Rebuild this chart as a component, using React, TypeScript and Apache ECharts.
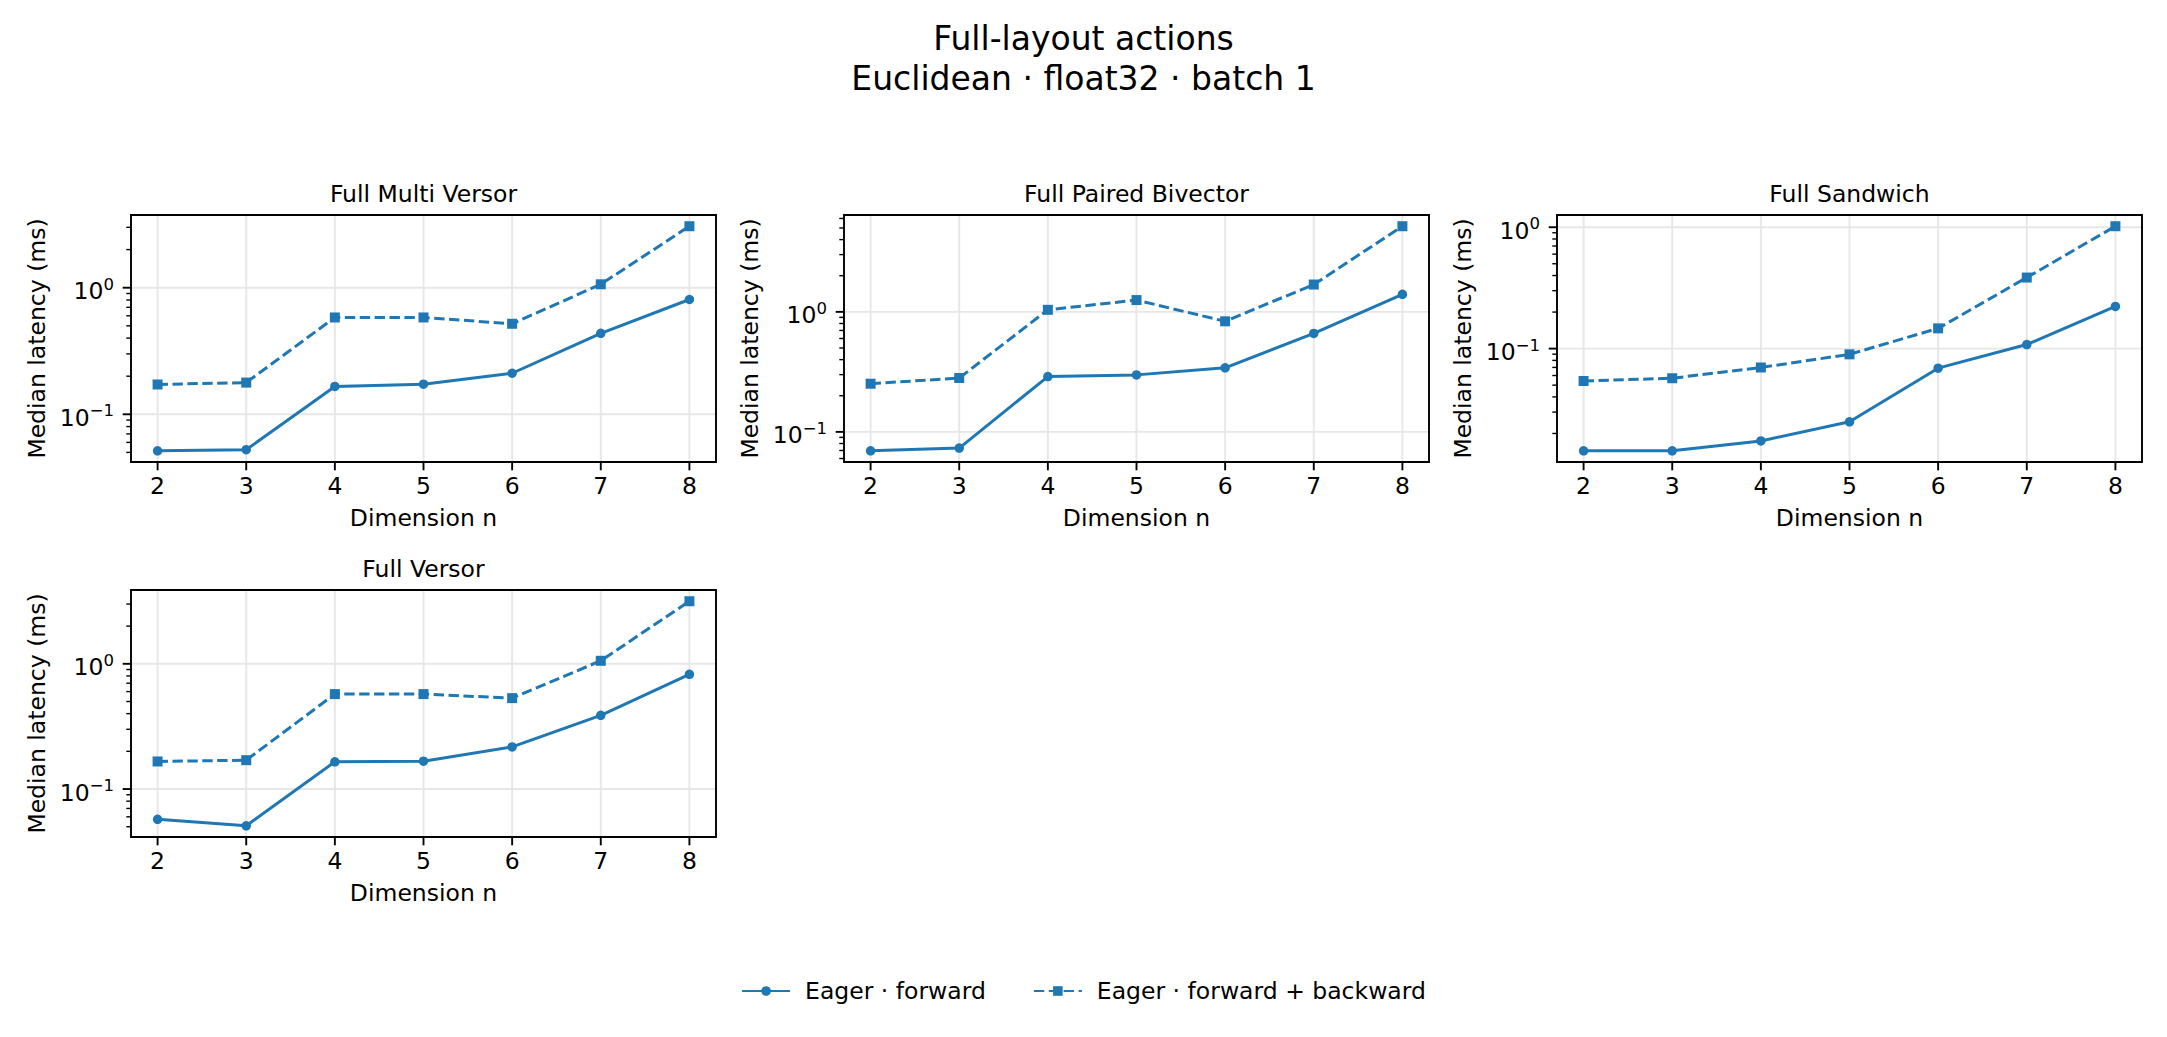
import React, { useEffect, useRef } from 'react';
import * as echarts from 'echarts';

// values, latency in ms
const DIMENSIONS = [2, 3, 4, 5, 6, 7, 8];
const SERIES_NAMES = ['Eager · forward', 'Eager · forward + backward'];

const multiVersorForward = [0.0515, 0.0525, 0.166, 0.173, 0.211, 0.436, 0.807];
const multiVersorBackward = [0.172, 0.178, 0.582, 0.582, 0.519, 1.064, 3.06];
const pairedBivectorForward = [0.0696, 0.0733, 0.289, 0.2985, 0.342, 0.661, 1.4];
const pairedBivectorBackward = [0.252, 0.281, 1.04, 1.254, 0.834, 1.689, 5.17];
const sandwichForward = [0.0144, 0.0144, 0.01734, 0.02495, 0.069, 0.108, 0.2224];
const sandwichBackward = [0.0541, 0.057, 0.0699, 0.0897, 0.1468, 0.385, 1.019];
const versorForward = [0.0573, 0.0509, 0.165, 0.167, 0.217, 0.388, 0.825];
const versorBackward = [0.166, 0.17, 0.573, 0.573, 0.532, 1.057, 3.16];

const MINOR_MULTIPLES = [2, 3, 4, 5, 6, 7, 8, 9];

const PANELS = [
  { title: 'Full Multi Versor', forward: multiVersorForward, backward: multiVersorBackward },
  { title: 'Full Paired Bivector', forward: pairedBivectorForward, backward: pairedBivectorBackward },
  { title: 'Full Sandwich', forward: sandwichForward, backward: sandwichBackward },
  { title: 'Full Versor', forward: versorForward, backward: versorBackward },
];

const FONT = 'DejaVu Sans';
const BLUE = '#1f77b4';
const TEXT_SIZE = 23.5;
const COL_LEFT = [131, 844, 1557];
const ROW_TOP = [215, 590];
const PLOT_W = 585;
const PLOT_H = 247;

// matplotlib-style 5% margins
const X_PAD = (DIMENSIONS[DIMENSIONS.length - 1] - DIMENSIONS[0]) * 0.05;
const X_MIN = DIMENSIONS[0] - X_PAD;
const X_MAX = DIMENSIONS[DIMENSIONS.length - 1] + X_PAD;

function logRange(values: number[]): [number, number] {
  const logs = values.map((v) => Math.log10(v));
  const lo = Math.min(...logs);
  const hi = Math.max(...logs);
  const pad = (hi - lo) * 0.05;
  return [Math.pow(10, lo - pad), Math.pow(10, hi + pad)];
}

function decades(lo: number, hi: number) {
  const out: number[] = [];
  for (let e = Math.floor(Math.log10(lo)); e <= Math.ceil(Math.log10(hi)); e++) {
    const v = Math.pow(10, e);
    if (v >= lo && v <= hi) out.push(v);
  }
  return out;
}

function minorValues(lo: number, hi: number) {
  const out: number[] = [];
  for (let e = Math.floor(Math.log10(lo)); e <= Math.ceil(Math.log10(hi)); e++) {
    MINOR_MULTIPLES.forEach((m) => {
      const v = m * Math.pow(10, e);
      if (v >= lo && v <= hi) out.push(v);
    });
  }
  return out;
}

const gridLinesItem = (yMin: number, yMax: number) => (_params: any, api: any) => {
  const [left, bottom] = api.coord([X_MIN, yMin]);
  const [right, top] = api.coord([X_MAX, yMax]);
  const style = { stroke: '#e7e7e7', lineWidth: 1.9 };
  const children: any[] = [];
  DIMENSIONS.forEach((d) => {
    const [x] = api.coord([d, yMin]);
    children.push({ type: 'line', shape: { x1: x, y1: top, x2: x, y2: bottom }, style });
  });
  decades(yMin, yMax).forEach((v) => {
    const [, y] = api.coord([X_MIN, v]);
    children.push({ type: 'line', shape: { x1: left, y1: y, x2: right, y2: y }, style });
  });
  return { type: 'group', children };
};

const frameItem = (yMin: number, yMax: number) => (_params: any, api: any) => {
  const [left, bottom] = api.coord([X_MIN, yMin]);
  const [right, top] = api.coord([X_MAX, yMax]);
  const major = { stroke: '#000', lineWidth: 1.9 };
  const minor = { stroke: '#000', lineWidth: 1.4 };
  const children: any[] = [];
  DIMENSIONS.forEach((d) => {
    const [x] = api.coord([d, yMin]);
    children.push({ type: 'line', shape: { x1: x, y1: bottom, x2: x, y2: bottom + 8.3 }, style: major });
  });
  decades(yMin, yMax).forEach((v) => {
    const [, y] = api.coord([X_MIN, v]);
    children.push({ type: 'line', shape: { x1: left - 8.3, y1: y, x2: left, y2: y }, style: major });
  });
  minorValues(yMin, yMax).forEach((v) => {
    const [, y] = api.coord([X_MIN, v]);
    children.push({ type: 'line', shape: { x1: left - 4.7, y1: y, x2: left, y2: y }, style: minor });
  });
  children.push({
    type: 'rect',
    shape: { x: left, y: top, width: right - left, height: bottom - top },
    style: { fill: 'none', stroke: '#000', lineWidth: 1.9 },
  });
  return { type: 'group', children };
};

function powerLabel(v: number) {
  const e = Math.log10(v);
  const r = Math.round(e);
  if (Math.abs(e - r) > 1e-6) return '';
  return `{b|10}{s|${r < 0 ? '\u2212' + -r : r}}`;
}

function buildOption() {
  const grid: any[] = [];
  const xAxis: any[] = [];
  const yAxis: any[] = [];
  const series: any[] = [];
  const title: any[] = [
    {
      text: 'Full-layout actions\nEuclidean · float32 · batch 1',
      left: 'center',
      top: 13,
      textStyle: { fontFamily: FONT, fontSize: 33, fontWeight: 'normal', color: '#000', lineHeight: 40 },
    },
  ];

  PANELS.forEach((p, i) => {
    const left = COL_LEFT[i % 3];
    const top = ROW_TOP[Math.floor(i / 3)];
    const [yMin, yMax] = logRange([...p.forward, ...p.backward]);

    grid.push({ left, top, width: PLOT_W, height: PLOT_H, show: false });
    title.push({
      text: p.title,
      left: left + PLOT_W / 2,
      top: top - 35.5,
      textAlign: 'center',
      padding: 0,
      textStyle: { fontFamily: FONT, fontSize: TEXT_SIZE, fontWeight: 'normal', color: '#000', lineHeight: 28 },
    });

    xAxis.push({
      type: 'value',
      gridIndex: i,
      min: X_MIN,
      max: X_MAX,
      name: 'Dimension n',
      nameLocation: 'middle',
      nameGap: 44,
      nameTextStyle: { fontFamily: FONT, fontSize: TEXT_SIZE, color: '#000' },
      axisLine: { show: false },
      axisTick: { show: false },
      splitLine: { show: false },
      axisLabel: {
        margin: 12,
        fontFamily: FONT,
        fontSize: TEXT_SIZE,
        color: '#000',
        formatter: (v: number) => (Number.isInteger(v) ? String(v) : ''),
      },
    });

    yAxis.push({
      type: 'log',
      logBase: 10,
      gridIndex: i,
      min: yMin,
      max: yMax,
      name: 'Median latency (ms)',
      nameLocation: 'middle',
      nameGap: 82,
      nameTextStyle: { fontFamily: FONT, fontSize: TEXT_SIZE, color: '#000' },
      axisLine: { show: false },
      axisTick: { show: false },
      splitLine: { show: false },
      minorTick: { show: false },
      axisLabel: {
        margin: 17,
        color: '#000',
        formatter: powerLabel,
        rich: {
          b: { fontFamily: FONT, fontSize: TEXT_SIZE, color: '#000', padding: [7, 0, 0, 0] },
          s: { fontFamily: FONT, fontSize: 16.5, color: '#000', padding: [0, 0, 7, 0] },
        },
      },
    });

    series.push({
      type: 'custom',
      name: '_grid',
      xAxisIndex: i,
      yAxisIndex: i,
      silent: true,
      clip: false,
      z: 1,
      data: [[DIMENSIONS[0], yMin]],
      renderItem: gridLinesItem(yMin, yMax),
    });

    [p.forward, p.backward].forEach((vals, k) => {
      series.push({
        type: 'line',
        name: SERIES_NAMES[k],
        xAxisIndex: i,
        yAxisIndex: i,
        z: 3,
        data: DIMENSIONS.map((d, j) => [d, vals[j]]),
        symbol: k === 0 ? 'circle' : 'rect',
        symbolSize: k === 0 ? 9.5 : 10,
        showSymbol: true,
        itemStyle: { color: BLUE },
        lineStyle: { color: BLUE, width: 3, type: k === 0 ? 'solid' : [10.4, 4.5] },
      });
    });

    series.push({
      type: 'custom',
      name: '_frame',
      xAxisIndex: i,
      yAxisIndex: i,
      silent: true,
      clip: false,
      z: 5,
      data: [[DIMENSIONS[0], yMin]],
      renderItem: frameItem(yMin, yMax),
    });
  });

  return {
    animation: false,
    backgroundColor: '#fff',
    title,
    grid,
    xAxis,
    yAxis,
    series,
    legend: {
      data: SERIES_NAMES,
      left: 'center',
      top: 979,
      padding: 0,
      itemWidth: 48,
      itemHeight: 12,
      itemGap: 47,
      textStyle: { fontFamily: FONT, fontSize: TEXT_SIZE, color: '#000', padding: [0, 0, 0, 10] },
    },
  };
}

export default function App() {
  const chartRef = useRef<HTMLDivElement>(null);

  useEffect(() => {
    if (!chartRef.current) return;
    const chart = echarts.init(chartRef.current, undefined, { renderer: 'svg' });
    chart.setOption(buildOption());
    return () => {
      chart.dispose();
    };
  }, []);

  return (
    <div
      ref={chartRef}
      style={{ position: 'fixed', left: 0, top: 0, width: 2167, height: 1037, background: '#fff' }}
    />
  );
}
